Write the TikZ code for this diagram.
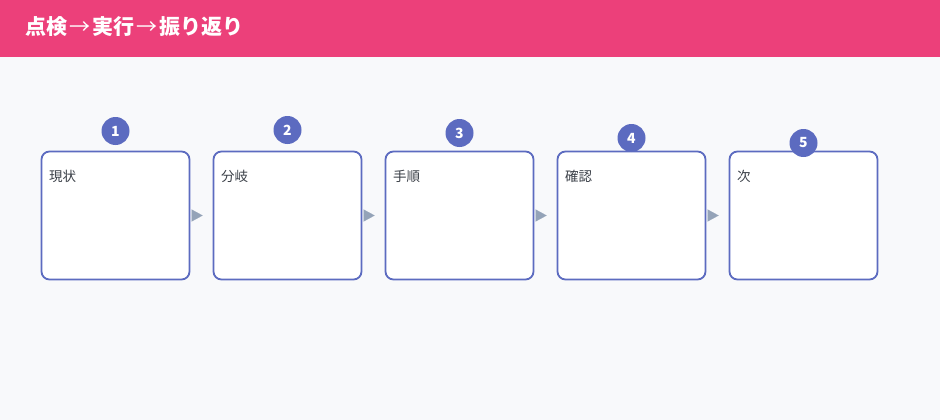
\documentclass[tikz,border=0pt]{standalone}
\usepackage{fontspec}
\setmainfont{Noto Sans CJK JP}
\usetikzlibrary{arrows.meta}
\definecolor{headpink}{HTML}{EC407A}
\definecolor{pagebg}{HTML}{F8F9FB}
\definecolor{stepblue}{HTML}{5C6BC0}
\definecolor{arrowgray}{HTML}{94A3B8}
\definecolor{labelgray}{HTML}{3A3F47}
\tikzset{
stepbox/.style={draw=stepblue, line width=1.8pt, fill=white, rounded corners=8pt, minimum width=148pt, minimum height=128pt, inner sep=0pt}, % one box per step
badge/.style={circle, fill=stepblue, text=white, minimum size=28pt, inner sep=0pt, font=\bfseries\fontsize{14}{14}\selectfont}, % number above the box
steplabel/.style={anchor=west, text=labelgray, inner sep=0pt, font=\fontsize{13.5}{13.5}\selectfont},
flow/.style={draw=arrowgray, line width=0.1pt, -{Triangle[length=11pt,width=12pt]}, fill=arrowgray, shorten <=2pt, shorten >=10pt},
}
\newcommand{\thinarrow}{\kern2pt{\mdseries →}\kern2pt}
\begin{document}
\begin{tikzpicture}[x=1pt,y=-1pt]
        \useasboundingbox (0,0) rectangle (940,420);
        \fill[pagebg] (0,0) rectangle (940,420);
        \fill[headpink] (0,0) rectangle (940,57);
        \node[anchor=west, text=white, inner sep=0pt, font=\bfseries\fontsize{21}{21}\selectfont] at (25,27) (title) {点検\thinarrow 実行\thinarrow 振り返り};
        \node[stepbox] at (115.5,215.5) (b1) {};
        \node[stepbox] at (287.5,215.5) (b2) {};
        \node[stepbox] at (459.5,215.5) (b3) {};
        \node[stepbox] at (631.5,215.5) (b4) {};
        \node[stepbox] at (803.5,215.5) (b5) {};
        \node[steplabel] at (49,176) (l1) {現状};
        \node[steplabel] at (221,176) (l2) {分岐};
        \node[steplabel] at (393,176) (l3) {手順};
        \node[steplabel] at (565,176) (l4) {確認};
        \node[steplabel] at (737,176) (l5) {次};
        \node[badge] at (115.5,131) (n1) {1};
        \node[badge] at (287.5,130) (n2) {2};
        \node[badge] at (459.5,133) (n3) {3};
        \node[badge] at (631.5,138) (n4) {4};
        \node[badge] at (803.5,143) (n5) {5};
        \draw[flow] (b1) -- (b2);
        \draw[flow] (b2) -- (b3);
        \draw[flow] (b3) -- (b4);
        \draw[flow] (b4) -- (b5);
    \end{tikzpicture}
\end{document}
